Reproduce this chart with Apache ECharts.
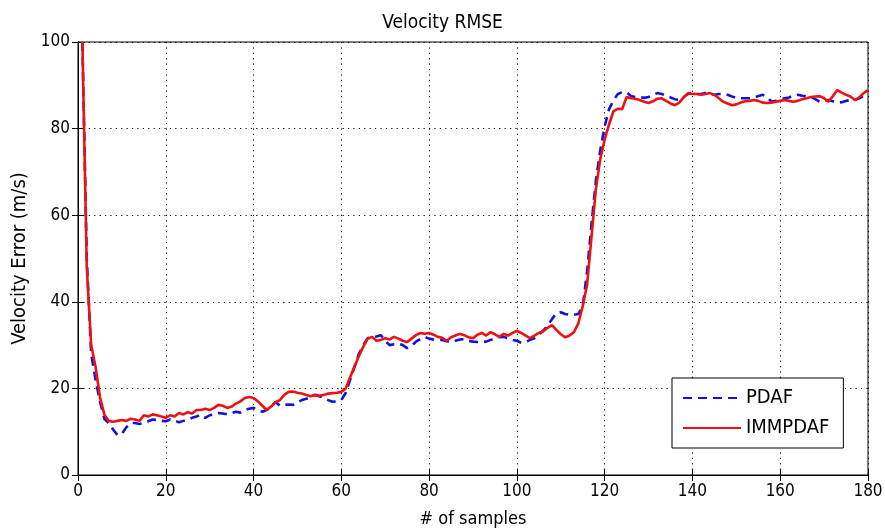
<!DOCTYPE html>
<html>
<head>
<meta charset="utf-8">
<script src="https://cdn.jsdelivr.net/npm/echarts@6/dist/echarts.min.js"></script>
<style>html,body{margin:0;padding:0;background:#fff}#c{width:885px;height:532px}</style>
</head>
<body>
<div id="c"></div>
<script>
const seriesNames = ["PDAF", "IMMPDAF"];
const xTicks = [0, 20, 40, 60, 80, 100, 120, 140, 160, 180];
const yTicks = [0, 20, 40, 60, 80, 100];
const pdaf = [
100,50,28,22,17,13,12,10.5,9.2,9.5,
11,12,12,11.8,12,12.4,12.8,12.7,12.5,12.4,
12.8,12.5,12.2,12.5,12.8,13.2,13.5,13.9,13.2,13.8,
14,14.3,14.2,14,14.3,14.6,14.4,15,15.3,15.5,
15,14.6,15,15.8,16.9,16,16.2,16.3,16.2,16.8,
17.3,17.6,18,18.5,18.2,17.8,17.3,16.9,17,17.3,
19,22,25,28,30,31.6,31.8,32,32.3,31,
30,30.2,30.3,30,29.3,29.8,30.8,31.4,31.9,31.5,
31.3,31.2,31.2,30.9,30.7,31,31.3,31.4,31,30.8,
30.7,30.7,30.8,31.2,31.5,31.8,31.9,31.6,31.2,31,
30.5,30.7,31.2,31.6,32.4,33.3,34.5,36,37.4,37.6,
37.2,37,37,37.2,39,47,58,68,75,80.5,
84.5,86.5,88,88.4,88.4,87.5,87.3,87.3,87.1,87.3,
87.8,88.2,88,87.6,87.2,86.8,86.6,87.3,88,88.2,
88,88,88.2,88,87.8,88,88,87.8,87.4,87.1,
87,87,87,87.1,87.5,87.8,87.3,86.2,86.4,86.8,
87,87.2,87.6,87.8,87.6,87.4,87.3,86.8,86.2,86.4,
86.6,86.3,86,86.1,86.4,86.6,86.6,87,87.5,88
];
const immpdaf = [
100,48,30,25,18,14,12.5,12.3,12.5,12.7,
12.5,13,12.8,12.5,13.8,13.5,14,13.8,13.5,13.2,
13.8,13.5,14.3,14,14.5,14.2,15,15,15.3,15,
15.5,16.2,16,15.5,15.8,16.5,17,17.8,18,17.8,
17,16,15,15.8,16.8,17.3,18.5,19.2,19.3,19,
18.8,18.5,18.2,18.5,18.3,18.5,18.8,18.9,19,19.2,
20,22.6,25,27.5,29.6,31.5,31.9,31,31.2,31.6,
31.3,31.9,31.5,31,30.7,31.5,32.3,32.8,32.6,32.8,
32.4,31.9,31.7,31,31.8,32.2,32.6,32.3,31.8,31.6,
32.4,32.8,32.2,33,32.5,31.9,32.6,32.2,32.8,33.3,
32.8,32.2,31.6,32.2,32.8,33.2,34,34.6,33.5,32.5,
31.8,32.2,33,35,39,44,55,66,73,77.5,
81,84,84.6,84.5,87.3,87,86.9,86.6,86.2,85.9,
86.3,86.9,87,86.4,85.8,85.4,86,87.2,88.2,88,
88,87.8,88,88.2,87.8,87,86.2,85.8,85.4,85.6,
86,86.3,86.4,86.6,86.4,86,85.9,86,86.2,86.4,
86.6,86.4,86.2,86.4,86.8,87,87.3,87.4,87.5,87,
86.2,87.5,88.9,88.3,87.8,87.4,86.6,87.2,88.2,88.9
];
const toPts = arr => arr.map((v, i) => [i + 1, v]);
const FONT = "'DejaVu Sans Condensed', 'Liberation Sans Narrow', 'Liberation Sans', Arial, sans-serif";
const chart = echarts.init(document.getElementById('c'), null, {renderer: 'canvas'});
const dotted = {show: true, lineStyle: {color: '#000', width: 1, type: [1.2, 4.2]}};
chart.setOption({
  animation: false,
  backgroundColor: '#fff',
  title: {text: 'Velocity RMSE', left: 'center', top: 9, itemGap: 0,
    textStyle: {fontFamily: FONT, fontSize: 19, fontWeight: 'normal', color: '#000'}},
  grid: {left: 78, right: 17, top: 42, bottom: 57, show: true, borderColor: '#000', borderWidth: 1,
    backgroundColor: '#fff', containLabel: false, outerBoundsMode: 'none'},
  legend: {
    orient: 'vertical', left: 672, top: 378,
    padding: [10, 14, 10, 10], itemGap: 10,
    borderColor: '#000', borderWidth: 1, backgroundColor: '#fff',
    itemWidth: 58, itemHeight: 20,
    itemStyle: {opacity: 0},
    textStyle: {fontFamily: FONT, fontSize: 20, color: '#000'},
    data: seriesNames.map(n => ({name: n}))
  },
  xAxis: [{
    type: 'value', min: 0, max: 180, interval: 20,
    name: '# of samples', nameLocation: 'middle', nameGap: 35,
    nameTextStyle: {fontFamily: FONT, fontSize: 18, color: '#000'},
    axisLine: {show: true, onZero: false, lineStyle: {color: '#000'}},
    axisTick: {show: true, inside: true, length: 6, lineStyle: {color: '#000'}},
    axisLabel: {fontFamily: FONT, fontSize: 17, color: '#000', margin: 8,
      formatter: v => xTicks.includes(v) ? String(v) : ''},
    splitLine: dotted
  }, {
    type: 'value', min: 0, max: 180, interval: 20, position: 'top',
    axisLine: {show: true, lineStyle: {color: '#000'}},
    axisTick: {show: true, inside: true, length: 6, lineStyle: {color: '#000'}},
    axisLabel: {show: false}, splitLine: {show: false}
  }],
  yAxis: [{
    type: 'value', min: 0, max: 100, interval: 20,
    name: 'Velocity Error (m/s)', nameLocation: 'middle', nameGap: 48, nameRotate: 90,
    nameTextStyle: {fontFamily: FONT, fontSize: 20, color: '#000'},
    axisLine: {show: true, lineStyle: {color: '#000'}},
    axisTick: {show: true, inside: true, length: 6, lineStyle: {color: '#000'}},
    axisLabel: {fontFamily: FONT, fontSize: 17, color: '#000', margin: 8,
      formatter: v => yTicks.includes(v) ? String(v) : ''},
    splitLine: dotted
  }, {
    type: 'value', min: 0, max: 100, interval: 20, position: 'right',
    axisLine: {show: true, lineStyle: {color: '#000'}},
    axisTick: {show: true, inside: true, length: 6, lineStyle: {color: '#000'}},
    axisLabel: {show: false}, splitLine: {show: false}
  }],
  series: [{
    name: seriesNames[0], type: 'line', data: toPts(pdaf), showSymbol: false, symbol: 'none',
    clip: true, z: 2,
    lineStyle: {color: '#1010e0', width: 2.6, type: [9, 6]}, itemStyle: {color: '#1010e0'}
  }, {
    name: seriesNames[1], type: 'line', data: toPts(immpdaf), showSymbol: false, symbol: 'none',
    clip: true, z: 3,
    lineStyle: {color: '#ee1111', width: 2.6}, itemStyle: {color: '#ee1111'}
  }]
});
</script>
</body>
</html>
